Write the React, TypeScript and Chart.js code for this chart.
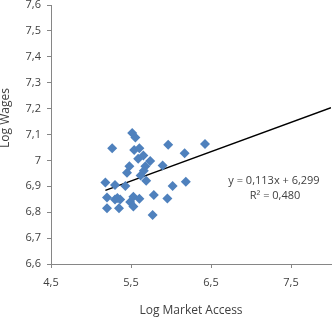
import React, { useEffect, useRef } from "react";
import { Chart, registerables } from "chart.js";

Chart.register(...registerables);

const marketAccess: number[] = [
  5.18, 5.3, 5.265, 5.2, 5.2, 5.3, 5.35, 5.365, 5.33, 5.43, 5.45, 5.48, 5.515, 5.555, 5.54, 5.605,
  5.59, 5.655, 5.68, 5.66, 5.62, 5.69, 5.74, 5.49, 5.53, 5.53, 5.605, 5.785, 5.77, 5.895, 5.965,
  5.955, 6.02, 6.17, 6.185, 6.425,
];
const wages: number[] = [
  6.915, 6.905, 7.047, 6.857, 6.815, 6.849, 6.815, 6.849, 6.855, 6.901, 6.952, 6.977, 7.106, 7.088,
  7.04, 7.047, 7.006, 7.019, 6.977, 6.96, 6.942, 6.921, 6.998, 6.839, 6.86, 6.822, 6.852, 6.866,
  6.789, 6.98, 7.06, 6.853, 6.901, 7.028, 6.918, 7.063,
];
const slope = 0.113;
const intercept = 6.299;
const trendRange: number[] = [5.18, 8];
const xTicks: number[] = [4.5, 5.5, 6.5, 7.5];
const equationLines: string[] = ["y = 0,113x + 6,299", "R\u00b2 = 0,480"];
const yTitle = "Log Wages";
const xTitle = "Log Market Access";

const fmt = (v: number) => String(Math.round(v * 10) / 10).replace(".", ",");

export default function App() {
  const ref = useRef<HTMLCanvasElement | null>(null);
  useEffect(() => {
    document.body.style.margin = "0";
    const canvas = ref.current;
    if (!canvas) return;
    const annot = {
      id: "annot",
      afterDraw(chart: any) {
        const ctx = chart.ctx;
        ctx.save();
        ctx.fillStyle = "#404040";
        ctx.font = "11px 'Open Sans'";
        ctx.textAlign = "center";
        ctx.textBaseline = "middle";
        ctx.fillText(equationLines[0], 274, 181);
        ctx.fillText(equationLines[1], 275, 196);
        ctx.font = "12px 'Open Sans'";
        ctx.translate(6, 118);
        ctx.rotate(-Math.PI / 2);
        ctx.fillText(yTitle, 0, 0);
        ctx.restore();
      },
    };
    const chart = new Chart(canvas, {
      type: "scatter",
      data: {
        datasets: [
          {
            type: "scatter",
            data: marketAccess.map((x, i) => ({ x, y: wages[i] })),
            pointStyle: "rectRot",
            pointRadius: 5,
            backgroundColor: "#4F81BD",
            borderColor: "#4F81BD",
            borderWidth: 0,
          },
          {
            type: "line",
            data: trendRange.map((x) => ({ x, y: slope * x + intercept })),
            borderColor: "#000000",
            borderWidth: 1.5,
            pointRadius: 0,
            fill: false,
          } as any,
        ],
      },
      options: {
        responsive: false,
        animation: false,
        layout: { padding: { left: 0, right: 1, top: 5, bottom: 0 } },
        plugins: { legend: { display: false }, tooltip: { enabled: false } },
        scales: {
          x: {
            type: "linear",
            min: 4.5,
            max: 8,
            afterBuildTicks: (scale: any) => {
              scale.ticks = xTicks.map((v) => ({ value: v }));
            },
            afterFit: (scale: any) => {
              scale.height = 54;
            },
            grid: { drawOnChartArea: false, drawTicks: true, tickLength: 4, color: "#868686" },
            border: { color: "#868686" },
            ticks: {
              color: "#404040",
              font: { family: "'Open Sans'", size: 11 },
              padding: 8,
              callback: (v: any) => fmt(Number(v)),
            },
            title: {
              display: true,
              text: xTitle,
              color: "#404040",
              font: { family: "'Open Sans'", size: 12 },
              padding: { top: 4, bottom: 0 },
            },
          },
          y: {
            type: "linear",
            min: 6.6,
            max: 7.6,
            ticks: {
              stepSize: 0.1,
              color: "#404040",
              font: { family: "'Open Sans'", size: 11 },
              padding: 6,
              callback: (v: any) => fmt(Number(v)),
            },
            afterFit: (scale: any) => {
              scale.width = 51;
              scale.paddingTop = 0;
            },
            grid: { drawOnChartArea: false, drawTicks: true, tickLength: 4, color: "#868686" },
            border: { color: "#868686" },
          },
        },
      },
      plugins: [annot],
    });
    return () => chart.destroy();
  }, []);
  return <canvas ref={ref} width={336} height={318} style={{ display: "block" }} />;
}
